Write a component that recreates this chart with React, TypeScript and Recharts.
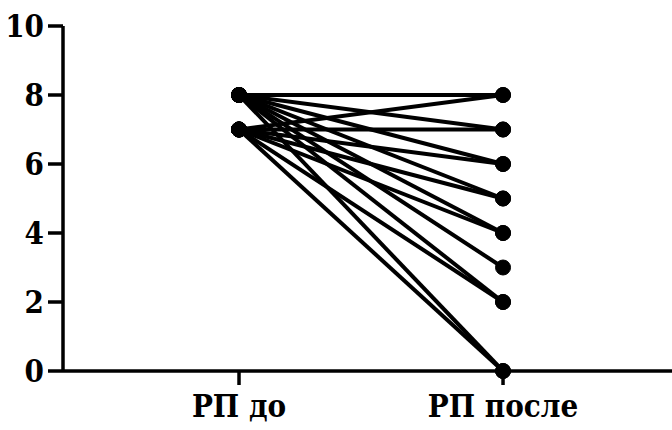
import { LineChart, Line, XAxis, YAxis } from 'recharts'

// paired scores: index i links before[i] to after[i]
const before = [8, 8, 8, 8, 8, 8, 8, 8, 7, 7, 7, 7, 7, 7, 7]
const after = [8, 7, 6, 5, 4, 3, 2, 0, 8, 7, 6, 5, 4, 2, 0]

const groupLabels = ['РП до', 'РП после']
const groupX = [2, 5]
const yTicks = [0, 2, 4, 6, 8, 10]

const pairs = before.map((b, i) => [
  { x: groupX[0], y: b },
  { x: groupX[1], y: after[i] },
])

const serif = "'DejaVu Serif Condensed', 'DejaVu Serif', serif"

function XTick({ x, y, payload }: any) {
  return (
    <text x={x} y={y} dy={30} textAnchor="middle" style={{ fontFamily: serif }} fontSize={31} fontWeight={700} fill="#000">
      {groupLabels[groupX.indexOf(payload.value)] ?? ''}
    </text>
  )
}

function YTick({ x, y, payload }: any) {
  return (
    <text x={x - 2} y={y} dy={11} textAnchor="end" style={{ fontFamily: serif }} fontSize={31} fontWeight={700} fill="#000">
      {payload.value}
    </text>
  )
}

export default function App() {
  return (
    <div style={{ position: 'absolute', left: 0, top: 0, background: '#fff' }}>
      <LineChart width={672} height={430} margin={{ top: 26, right: 0, left: 0, bottom: 0 }}>
        <XAxis
          type="number"
          dataKey="x"
          domain={[0, 6.92]}
          ticks={groupX}
          height={59}
          axisLine={{ stroke: '#000', strokeWidth: 3.5 }}
          tickLine={{ stroke: '#000', strokeWidth: 3.5 }}
          tickSize={14}
          tick={<XTick />}
          allowDuplicatedCategory={false}
        />
        <YAxis
          type="number"
          dataKey="y"
          domain={[0, 10]}
          ticks={yTicks}
          width={63}
          axisLine={{ stroke: '#000', strokeWidth: 3.5 }}
          tickLine={{ stroke: '#000', strokeWidth: 3.5 }}
          tickSize={15}
          tick={<YTick />}
        />
        {pairs.map((d, i) => (
          <Line
            key={i}
            data={d}
            dataKey="y"
            type="linear"
            stroke="#000"
            strokeWidth={4}
            dot={{ r: 7.5, fill: '#000', stroke: '#000', strokeWidth: 1 }}
            activeDot={false}
            isAnimationActive={false}
          />
        ))}
      </LineChart>
    </div>
  )
}
